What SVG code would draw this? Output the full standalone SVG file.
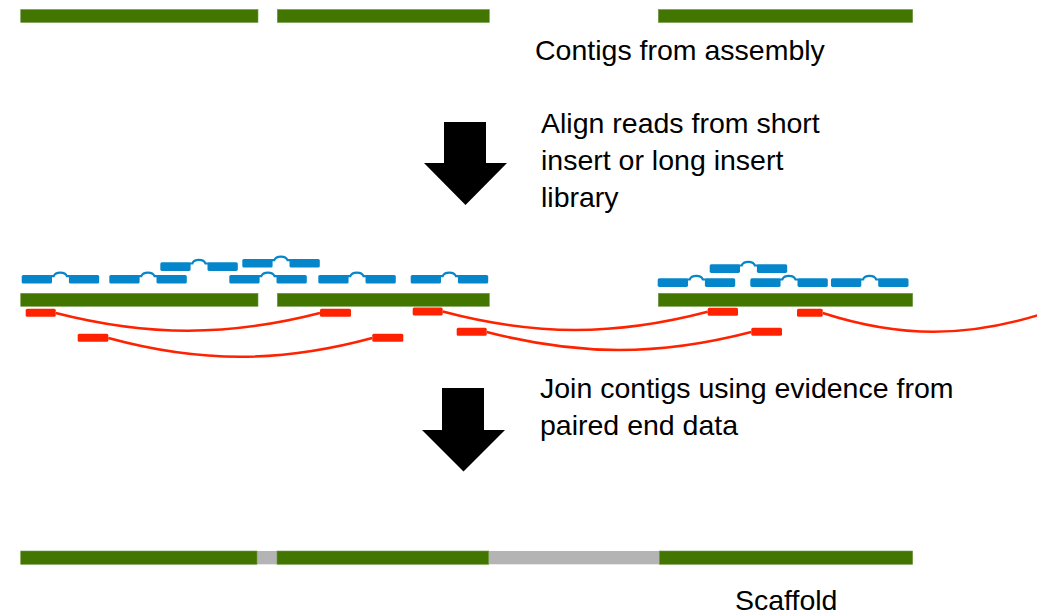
<svg xmlns="http://www.w3.org/2000/svg" xmlns:xlink="http://www.w3.org/1999/xlink" width="1037" height="615" viewBox="0 0 1037 615">
  <style>
    .contig { fill: #437600; stroke: #6f9a45; stroke-width: 0.6; }
    .gap { fill: #b4b4b4; }
    .read { fill: #0686ca; }
    .hump { fill: none; stroke: #0686ca; stroke-width: 2.2; }
    .pe { fill: #ff2200; }
    .link { fill: none; stroke: #ff2200; stroke-width: 2.5; }
    .arrow { fill: #000000; }
    .label { font-family: "Liberation Sans", Arial, sans-serif; font-size: 28.5px; fill: #000000; }
  </style>
  <defs>
    <g id="pair">
      <rect class="read" x="0" y="0" width="30.3" height="8.6" rx="1.6"/>
      <rect class="read" x="47.2" y="0" width="30.3" height="8.6" rx="1.6"/>
      <path class="hump" d="M29,1.2 H32 C33.8,-3.6 43.4,-3.6 45.2,1.2 H48.5"/>
    </g>
  </defs>
  <rect width="1037" height="615" fill="#ffffff"/>

  <g id="contigs-assembly">
    <rect class="contig" x="20.7" y="9.5" width="237.3" height="13"/>
    <rect class="contig" x="277.3" y="9.5" width="212" height="13"/>
    <rect class="contig" x="658.3" y="9.5" width="254.4" height="13"/>
    <text class="label" x="535" y="59.5">Contigs from assembly</text>
  </g>

  <g id="arrow-align">
    <polygon class="arrow" points="444,122 486,122 486,163 507,163 465.5,205 424,163 444,163"/>
    <text class="label" x="541" y="133">Align reads from short</text>
    <text class="label" x="541" y="170">insert or long insert</text>
    <text class="label" x="541" y="207">library</text>
  </g>

  <g id="aligned-reads">
    <use xlink:href="#pair" x="21.7" y="275"/>
    <use xlink:href="#pair" x="109.3" y="275"/>
    <use xlink:href="#pair" x="229.3" y="275"/>
    <use xlink:href="#pair" x="318.3" y="275"/>
    <use xlink:href="#pair" x="410.7" y="275"/>
    <use xlink:href="#pair" x="160.3" y="262.3"/>
    <use xlink:href="#pair" x="242.3" y="259"/>
    <use xlink:href="#pair" x="657.7" y="278.3"/>
    <use xlink:href="#pair" x="750.3" y="278.3"/>
    <use xlink:href="#pair" x="831" y="278.3"/>
    <use xlink:href="#pair" x="709.7" y="264.3"/>
  </g>

  <g id="contigs-aligned">
    <rect class="contig" x="20.7" y="293.3" width="237.3" height="13"/>
    <rect class="contig" x="277.3" y="293.3" width="212" height="13"/>
    <rect class="contig" x="658.3" y="293.3" width="254.4" height="13"/>
  </g>

  <g id="connectors">
    <path class="link" d="M55.7,313 C148,336.6 228,336.6 320,313"/>
    <path class="link" d="M108.3,338 C200,363 280,363 372.3,338"/>
    <path class="link" d="M442.7,311.5 C535,336 615,336 707.7,311.7"/>
    <path class="link" d="M486.7,332 C579,356 659,356 751.3,332"/>
    <path class="link" d="M822.7,313 C900,338 967,338 1045,313"/>
  </g>

  <g id="paired-ends">
    <rect class="pe" x="25.7" y="308.7" width="30" height="8" rx="1.5"/>
    <rect class="pe" x="320" y="308.7" width="31" height="8" rx="1.5"/>
    <rect class="pe" x="77.7" y="333.7" width="30.6" height="8" rx="1.5"/>
    <rect class="pe" x="372.3" y="333.7" width="31" height="8" rx="1.5"/>
    <rect class="pe" x="412.7" y="307.5" width="30" height="8" rx="1.5"/>
    <rect class="pe" x="707.7" y="307.7" width="30.3" height="8" rx="1.5"/>
    <rect class="pe" x="456.7" y="327.7" width="30" height="8" rx="1.5"/>
    <rect class="pe" x="751.3" y="327.7" width="30.7" height="8" rx="1.5"/>
    <rect class="pe" x="797" y="308.7" width="25.7" height="8" rx="1.5"/>
  </g>

  <g id="arrow-join">
    <polygon class="arrow" points="442,388 484,388 484,430 505,430 463.5,471.5 422,430 442,430"/>
    <text class="label" x="540" y="398">Join contigs using evidence from</text>
    <text class="label" x="540" y="435">paired end data</text>
  </g>

  <g id="scaffold">
    <rect class="gap" x="257" y="551" width="21" height="13.3"/>
    <rect class="gap" x="488.5" y="551" width="171" height="13.3"/>
    <rect class="contig" x="20.7" y="551" width="236.3" height="13.3"/>
    <rect class="contig" x="277" y="551" width="211.7" height="13.3"/>
    <rect class="contig" x="659.3" y="551" width="253.4" height="13.3"/>
    <text class="label" x="735" y="610">Scaffold</text>
  </g>
</svg>
